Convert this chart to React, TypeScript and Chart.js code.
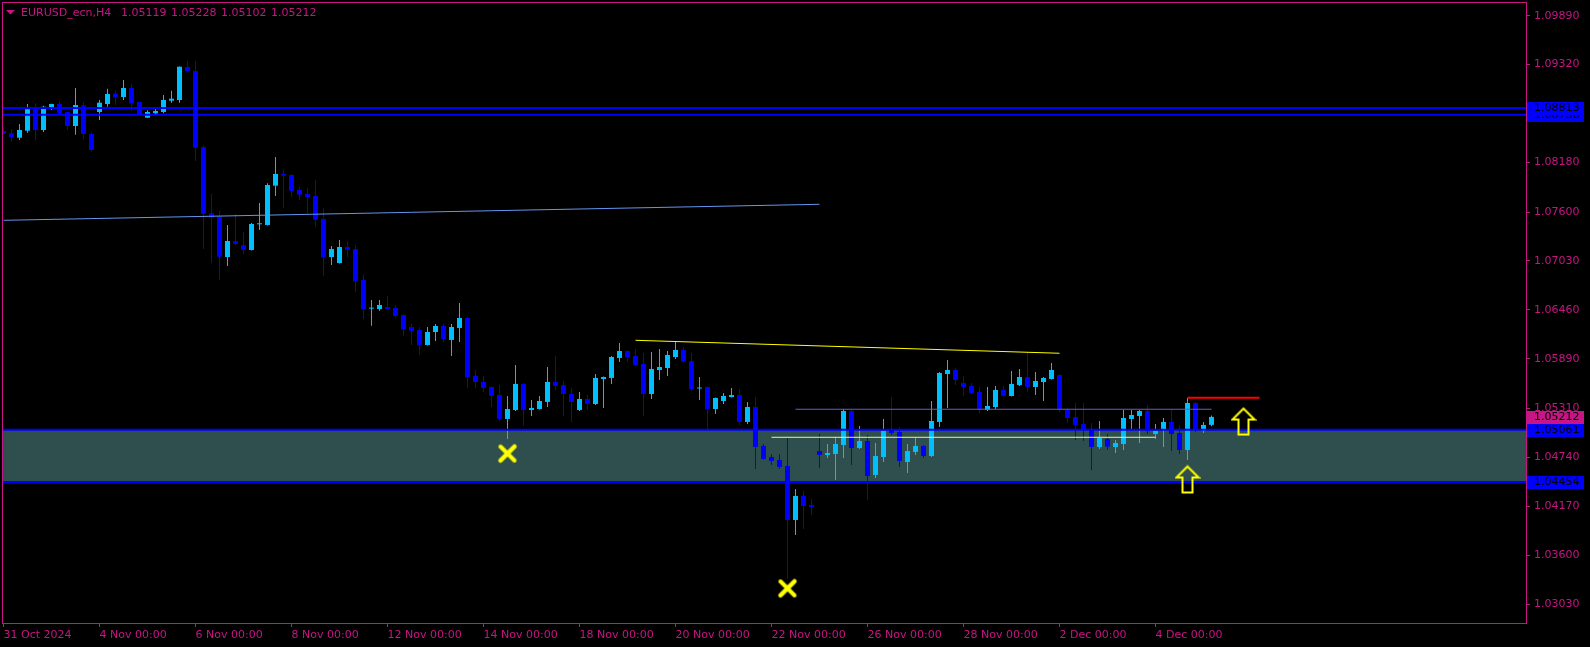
import React, { useEffect, useRef } from 'react';
import { Chart, registerables } from 'chart.js';

Chart.register(...registerables);

// ---- data ----
const opens = [
  1.08546, 1.08519, 1.08467, 1.08549, 1.08822, 1.08557, 1.08814, 1.0886, 1.08767, 1.08604,
  1.08845, 1.08511, 1.08767, 1.0886, 1.0898, 1.08942, 1.09047, 1.08884, 1.08701, 1.08752,
  1.08767, 1.08899, 1.08907, 1.09292, 1.09245, 1.08359, 1.07586, 1.07546, 1.07076, 1.07263,
  1.07216, 1.07158, 1.07458, 1.0745, 1.07908, 1.08044, 1.08033, 1.07858, 1.07811, 1.07788,
  1.0752, 1.07076, 1.07006, 1.07193, 1.0717, 1.06808, 1.06474, 1.0647, 1.06493, 1.06482,
  1.064, 1.0626, 1.06225, 1.0605, 1.06202, 1.06272, 1.06109, 1.06249, 1.06365, 1.05689,
  1.05619, 1.05561, 1.05467, 1.05188, 1.05292, 1.05596, 1.05292, 1.05304, 1.05386, 1.05619,
  1.05584, 1.05479, 1.05292, 1.05421, 1.05362, 1.05654, 1.05666, 1.05899, 1.0598, 1.05922,
  1.05829, 1.05479, 1.05759, 1.05782, 1.0591, 1.05992, 1.05864, 1.05543, 1.05561, 1.05304,
  1.05397, 1.05444, 1.05467, 1.05153, 1.05327, 1.04873, 1.04744, 1.04709, 1.04639, 1.0401,
  1.0429, 1.04185, 1.04814, 1.04768, 1.04779, 1.04884, 1.05281, 1.04849, 1.04931, 1.04535,
  1.04744, 1.05059, 1.05036, 1.04686, 1.04803, 1.04873, 1.04756, 1.05153, 1.05712, 1.05759,
  1.05607, 1.05572, 1.05502, 1.05292, 1.05327, 1.05526, 1.05456, 1.05584, 1.05677, 1.05561,
  1.05619, 1.05654, 1.05701, 1.05292, 1.05211, 1.05129, 1.05059, 1.04861, 1.04954, 1.04861,
  1.04896, 1.05188, 1.05222, 1.05281, 1.05013, 1.05071, 1.05153, 1.05024, 1.04826, 1.05374,
  1.05048, 1.05119,
];
const highs = [
  1.08589, 1.08565, 1.08627, 1.0886, 1.08869, 1.08841, 1.08864, 1.08887, 1.0877, 1.09047,
  1.08884, 1.08526, 1.08907, 1.09039, 1.09015, 1.0914, 1.09094, 1.08886, 1.08787, 1.08799,
  1.08965, 1.09015, 1.09298, 1.09362, 1.09362, 1.08379, 1.07811, 1.07616, 1.0745, 1.07578,
  1.07368, 1.07473, 1.07706, 1.07936, 1.08242, 1.08091, 1.08039, 1.07896, 1.07884, 1.07974,
  1.07644, 1.07205, 1.07275, 1.07259, 1.07213, 1.06875, 1.06575, 1.06575, 1.06622, 1.06517,
  1.06406, 1.06295, 1.0626, 1.0626, 1.06295, 1.06295, 1.06295, 1.0654, 1.06377, 1.05759,
  1.05689, 1.05567, 1.05584, 1.05456, 1.05817, 1.05607, 1.05409, 1.05456, 1.05794, 1.05922,
  1.05631, 1.05549, 1.05502, 1.05467, 1.05712, 1.05683, 1.05922, 1.06074, 1.05986, 1.06004,
  1.05957, 1.05969, 1.06004, 1.0598, 1.06085, 1.06027, 1.05957, 1.05677, 1.05567, 1.05438,
  1.05491, 1.05549, 1.05537, 1.05386, 1.05444, 1.04896, 1.04779, 1.04779, 1.04966, 1.04371,
  1.04348, 1.04255, 1.05013, 1.04896, 1.04978, 1.05304, 1.05304, 1.05106, 1.05001, 1.04908,
  1.05188, 1.05444, 1.05094, 1.04896, 1.04966, 1.04884, 1.05397, 1.05736, 1.05875, 1.05782,
  1.05689, 1.05607, 1.05561, 1.05561, 1.05572, 1.05572, 1.05747, 1.05771, 1.05957, 1.05736,
  1.05677, 1.0584, 1.05706, 1.05316, 1.05374, 1.05374, 1.05141, 1.05164, 1.05013, 1.04943,
  1.05292, 1.05292, 1.05292, 1.05351, 1.05129, 1.05199, 1.05292, 1.05118, 1.05432, 1.05386,
  1.05153, 1.05228,
];
const lows = [
  1.08511, 1.08421, 1.08441, 1.08526, 1.08441, 1.08534, 1.0879, 1.08744, 1.08557, 1.08502,
  1.08449, 1.08304, 1.08674, 1.08829, 1.08849, 1.08907, 1.08782, 1.0872, 1.08697, 1.08744,
  1.08752, 1.08876, 1.08876, 1.09225, 1.08196, 1.0717, 1.0701, 1.06808, 1.06971, 1.07216,
  1.07111, 1.07152, 1.07391, 1.07444, 1.07788, 1.07651, 1.0778, 1.07741, 1.07586, 1.0743,
  1.06858, 1.06983, 1.07001, 1.07073, 1.06668, 1.06354, 1.06275, 1.0645, 1.06458, 1.06369,
  1.06155, 1.0605, 1.05934, 1.06045, 1.06097, 1.06085, 1.05922, 1.06085, 1.05549, 1.05549,
  1.05502, 1.05327, 1.05164, 1.04954, 1.05281, 1.05109, 1.05222, 1.05298, 1.05327, 1.05526,
  1.05222, 1.05153, 1.05281, 1.05292, 1.05351, 1.05316, 1.05596, 1.05852, 1.05852, 1.05805,
  1.05222, 1.05421, 1.05642, 1.05689, 1.05887, 1.05846, 1.05514, 1.05409, 1.05071, 1.05246,
  1.05362, 1.05438, 1.05118, 1.05129, 1.04605, 1.04709, 1.04651, 1.04605, 1.03322, 1.03835,
  1.03905, 1.04068, 1.04616, 1.04733, 1.04476, 1.04733, 1.04651, 1.04838, 1.04243, 1.045,
  1.04686, 1.05001, 1.04628, 1.04558, 1.04768, 1.04733, 1.04744, 1.05094, 1.05316, 1.05584,
  1.05456, 1.05479, 1.05257, 1.05281, 1.05304, 1.0545, 1.0545, 1.05572, 1.05502, 1.05467,
  1.05397, 1.05648, 1.05269, 1.05141, 1.04943, 1.04931, 1.04593, 1.04838, 1.04826, 1.04791,
  1.04826, 1.05071, 1.04908, 1.05013, 1.04954, 1.04861, 1.04814, 1.04779, 1.04709, 1.05036,
  1.05024, 1.05102,
];
const closes = [
  1.08514, 1.08472, 1.08557, 1.08799, 1.08557, 1.08829, 1.0886, 1.08752, 1.08604, 1.08849,
  1.08511, 1.08324, 1.08876, 1.08977, 1.08942, 1.09047, 1.08869, 1.08732, 1.08767, 1.08779,
  1.08907, 1.08922, 1.09295, 1.09245, 1.08351, 1.07581, 1.07539, 1.0708, 1.07263, 1.07228,
  1.07158, 1.07461, 1.07461, 1.07916, 1.08044, 1.08024, 1.07846, 1.07803, 1.07776, 1.07511,
  1.07076, 1.0717, 1.07193, 1.07162, 1.06797, 1.0647, 1.06478, 1.06517, 1.0647, 1.06388,
  1.06237, 1.06214, 1.0605, 1.06202, 1.06272, 1.0612, 1.0626, 1.06365, 1.05677, 1.05619,
  1.05549, 1.05456, 1.05188, 1.05304, 1.05596, 1.05292, 1.05316, 1.05397, 1.05619, 1.05572,
  1.05479, 1.05386, 1.05421, 1.05362, 1.05666, 1.05677, 1.0591, 1.0598, 1.0591, 1.05817,
  1.05479, 1.05771, 1.05794, 1.05934, 1.05992, 1.05856, 1.05537, 1.05549, 1.05304, 1.05432,
  1.05456, 1.05467, 1.05153, 1.05327, 1.04861, 1.04721, 1.04698, 1.04628, 1.0401, 1.0429,
  1.04173, 1.04161, 1.04768, 1.04791, 1.04896, 1.05281, 1.04849, 1.04931, 1.04523, 1.04756,
  1.05048, 1.05024, 1.04698, 1.04814, 1.04873, 1.04756, 1.05164, 1.05724, 1.05759, 1.05642,
  1.05561, 1.05491, 1.05304, 1.05339, 1.05526, 1.05456, 1.05596, 1.05677, 1.05561, 1.05631,
  1.05666, 1.05759, 1.05304, 1.05199, 1.05118, 1.05059, 1.04861, 1.04966, 1.04865, 1.04908,
  1.05199, 1.05234, 1.05281, 1.05048, 1.05048, 1.05153, 1.05013, 1.04826, 1.05374, 1.05059,
  1.05118, 1.05212,
];

const xTickIdx = [0, 12, 24, 36, 48, 60, 72, 84, 96, 108, 120, 132, 144];
const xTickLabels = [
  '31 Oct 2024', '4 Nov 00:00', '6 Nov 00:00', '8 Nov 00:00', '12 Nov 00:00', '14 Nov 00:00',
  '18 Nov 00:00', '20 Nov 00:00', '22 Nov 00:00', '26 Nov 00:00', '28 Nov 00:00', '2 Dec 00:00', '4 Dec 00:00',
];
const yTicks = [1.0303, 1.036, 1.0417, 1.0474, 1.0531, 1.0589, 1.0646, 1.0703, 1.076, 1.0818, 1.0875, 1.0932, 1.0989];

const symbolTitle = 'EURUSD_ecn,H4';
const headerValues = ['1.05119', '1.05228', '1.05102', '1.05212'];

const resistanceLines = [1.08813, 1.08736];
const zoneTop = 1.05061;
const zoneBottom = 1.04454;
const maLine = [{ x: 0, y: 1.07504 }, { x: 102, y: 1.07691 }];
const yellowTrend = [{ x: 79, y: 1.06105 }, { x: 132, y: 1.05954 }];
const slateLine = [{ x: 99, y: 1.05301 }, { x: 151, y: 1.05301 }];
const paleLine = [{ x: 96, y: 1.04974 }, { x: 144, y: 1.04974 }];
const redLine = [{ x: 148, y: 1.05436 }, { x: 157, y: 1.05436 }];
const crossMarks = [{ x: 63, y: 1.04785 }, { x: 98, y: 1.03213 }];
const arrowMarks = [{ x: 148, y: 1.04482 }, { x: 155, y: 1.05158 }];

const priceTags = [
  { price: 1.08736, text: '1.08736', color: '#0000FF' },
  { price: 1.08813, text: '1.08813', color: '#0000FF' },
  { price: 1.05061, text: '1.05061', color: '#0000FF' },
  { price: 1.04454, text: '1.04454', color: '#0000FF' },
  { price: 1.05212, text: '1.05212', color: '#C71585' },
];

const AXIS = '#C71585';
const BULL = '#00BFFF';
const BEAR = '#0000FF';
const FONT = '"DejaVu Sans", Verdana, sans-serif';

function makeCross(): HTMLCanvasElement {
  const c = document.createElement('canvas');
  c.width = 22; c.height = 22;
  const g = c.getContext('2d')!;
  g.strokeStyle = '#FFFF00';
  g.lineCap = 'round';
  g.lineWidth = 4;
  g.beginPath(); g.moveTo(4, 4); g.lineTo(18, 18); g.stroke();
  g.lineWidth = 4.5;
  g.beginPath(); g.moveTo(18, 4); g.lineTo(4, 18); g.stroke();
  return c;
}

function makeArrow(): HTMLCanvasElement {
  const c = document.createElement('canvas');
  c.width = 26; c.height = 30;
  const g = c.getContext('2d')!;
  g.strokeStyle = '#FFFF00';
  g.lineWidth = 2;
  g.lineJoin = 'miter';
  g.beginPath();
  g.moveTo(13, 2);
  g.lineTo(24, 13);
  g.lineTo(18, 13);
  g.lineTo(18, 28);
  g.lineTo(8, 28);
  g.lineTo(8, 13);
  g.lineTo(2, 13);
  g.closePath();
  g.stroke();
  return c;
}

export default function App() {
  const ref = useRef<HTMLCanvasElement | null>(null);

  useEffect(() => {
    document.body.style.margin = '0';
    document.body.style.background = '#000';
    const canvas = ref.current;
    if (!canvas) return;

    const crossImg = makeCross();
    const arrowImg = makeArrow();
    const span = (v: number) => [{ x: -5, y: v }, { x: 200, y: v }];

    const overlay = {
      id: 'mtOverlay',
      beforeDraw(chart: any) {
        const ctx = chart.ctx;
        ctx.save();
        ctx.fillStyle = '#000';
        ctx.fillRect(0, 0, chart.width, chart.height);
        ctx.restore();
      },
      afterDraw(chart: any) {
        const ctx = chart.ctx;
        const a = chart.chartArea;
        const ys = chart.scales.y;
        ctx.save();
        ctx.strokeStyle = AXIS;
        ctx.lineWidth = 1;
        ctx.strokeRect(a.left + 0.5, a.top + 0.5, a.right - a.left, a.bottom - a.top);
        ctx.fillStyle = AXIS;
        ctx.beginPath();
        ctx.moveTo(6, 10); ctx.lineTo(15, 10); ctx.lineTo(10.5, 14.5); ctx.closePath();
        ctx.fill();
        ctx.font = '11px ' + FONT;
        ctx.textBaseline = 'alphabetic';
        ctx.textAlign = 'left';
        ctx.fillText(symbolTitle, 21, 16);
        headerValues.forEach((t, k) => ctx.fillText(t, 121 + k * 50, 16));
        ctx.textBaseline = 'middle';
        priceTags.forEach((tag) => {
          const y = Math.round(ys.getPixelForValue(tag.price));
          ctx.fillStyle = tag.color;
          ctx.fillRect(a.right + 1, y - 6, 57, 13);
          ctx.fillStyle = '#000';
          ctx.fillText(tag.text, a.right + 8, y + 0.5);
        });
        ctx.restore();
      },
    };

    const lineDs = (data: any[], color: string, width: number, order: number) => ({
      type: 'line',
      data,
      borderColor: color,
      borderWidth: width,
      pointRadius: 0,
      fill: false,
      tension: 0,
      order,
    });

    const chart = new Chart(canvas, {
      type: 'bar',
      data: {
        datasets: [
          {
            type: 'line',
            data: span(zoneTop),
            borderWidth: 0,
            borderColor: 'rgba(0,0,0,0)',
            backgroundColor: '#2F4F4F',
            fill: { value: zoneBottom },
            pointRadius: 0,
            order: 20,
          } as any,
          {
            type: 'bar',
            data: lows.map((l, i) => ({ x: i, y: [l, highs[i]] })),
            backgroundColor: opens.map((o, i) => (closes[i] >= o ? BULL : BEAR)),
            barThickness: 1,
            grouped: false,
            borderWidth: 0,
            inflateAmount: 0,
            order: 11,
          } as any,
          {
            type: 'bar',
            data: opens.map((o, i) => ({ x: i, y: [o, closes[i]] })),
            backgroundColor: opens.map((o, i) => (closes[i] >= o ? BULL : BEAR)),
            barThickness: 5,
            minBarLength: 1,
            grouped: false,
            borderWidth: 0,
            inflateAmount: 0,
            order: 10,
          } as any,
          lineDs(maLine, '#6495ED', 1, 4) as any,
          lineDs(yellowTrend, '#FFFF00', 1, 4) as any,
          lineDs(slateLine, '#6A5ACD', 1, 4) as any,
          lineDs(paleLine, '#F2F28C', 1, 4) as any,
          lineDs(redLine, '#FF0000', 2, 4) as any,
          lineDs(span(resistanceLines[0]), '#0000FF', 2, 3) as any,
          lineDs(span(resistanceLines[1]), '#0000FF', 2, 3) as any,
          lineDs(span(zoneTop), '#0000FF', 2, 3) as any,
          lineDs(span(zoneBottom), '#0000FF', 2, 3) as any,
          {
            type: 'line',
            data: crossMarks,
            showLine: false,
            pointStyle: crossImg,
            pointRadius: 10,
            order: 1,
          } as any,
          {
            type: 'line',
            data: arrowMarks,
            showLine: false,
            pointStyle: arrowImg,
            pointRadius: 10,
            order: 1,
          } as any,
        ],
      },
      options: {
        animation: false,
        responsive: false,
        devicePixelRatio: 1,
        events: [],
        layout: { autoPadding: false, padding: { left: 2, top: 2, right: 0, bottom: 0 } },
        plugins: { legend: { display: false }, tooltip: { enabled: false } },
        scales: {
          x: {
            type: 'linear',
            position: 'bottom',
            min: -0.1875,
            max: 190.3125,
            offset: false,
            grid: { display: true, offset: false, drawOnChartArea: false, drawTicks: true, tickLength: 4, color: AXIS },
            border: { display: false },
            ticks: {
              autoSkip: false,
              maxRotation: 0,
              minRotation: 0,
              align: 'start',
              padding: 2,
              color: AXIS,
              font: { family: FONT, size: 11 },
              callback: (v: any) => {
                const k = xTickIdx.indexOf(Number(v));
                return k >= 0 ? xTickLabels[k] : '';
              },
            },
            afterBuildTicks: (s: any) => { s.ticks = xTickIdx.map((v) => ({ value: v })); },
            afterFit: (s: any) => {
              s.height = 24;
              s.paddingLeft = 0; s.paddingRight = 0; s.paddingTop = 0; s.paddingBottom = 0;
            },
          } as any,
          y: {
            type: 'linear',
            position: 'right',
            min: 1.028086,
            max: 1.1004975,
            grid: { display: true, drawOnChartArea: false, drawTicks: true, tickLength: 4, color: AXIS },
            border: { display: false },
            ticks: {
              padding: 4,
              color: AXIS,
              font: { family: FONT, size: 11 },
              callback: (v: any) => Number(v).toFixed(5),
            },
            afterBuildTicks: (s: any) => { s.ticks = yTicks.map((v) => ({ value: v })); },
            afterFit: (s: any) => {
              s.width = 64;
              s.paddingLeft = 0; s.paddingRight = 0; s.paddingTop = 0; s.paddingBottom = 0;
            },
          } as any,
        },
      } as any,
      plugins: [overlay],
    });

    return () => chart.destroy();
  }, []);

  return <canvas ref={ref} width={1590} height={647} style={{ display: 'block' }} />;
}
